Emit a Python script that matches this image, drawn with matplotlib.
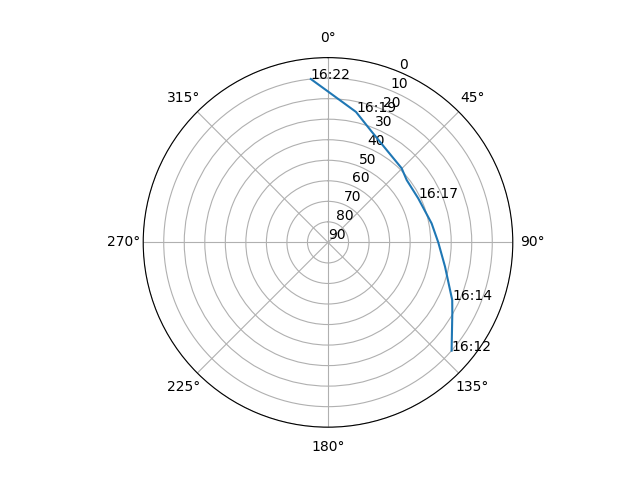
import numpy as np
import matplotlib
matplotlib.use("Agg")
import matplotlib.pyplot as plt

# pass track (azimuth deg, elevation deg)
azimuth = [131.2, 119.7, 114.9, 111.3, 101.7, 90.0, 79.6, 64.0, 51.6, 44.8,
           32.4, 21.5, 12.1, 0.1, -6.0]
elevation = [10.0, 20.3, 23.3, 26.2, 31.8, 36.3, 38.7, 41.1, 41.1, 39.1,
             36.7, 32.0, 25.0, 16.6, 10.0]
# time labels at some of the samples ("" = no label)
time_labels = ["16:12", "", "16:14", "", "", "", "", "16:17", "", "",
               "", "", "16:19", "", "16:22"]


def main():
    fig = plt.figure(figsize=(6.4, 4.8), dpi=100)
    ax = fig.add_subplot(111, projection="polar")
    ax.set_theta_zero_location("N")
    ax.set_theta_direction(-1)

    theta = np.radians(azimuth)
    ax.plot(theta, elevation)
    for t, e, lab in zip(theta, elevation, time_labels):
        if lab:
            ax.text(t, e, lab)

    ax.set_ylim(90, 0)
    ax.set_yticks(range(0, 91, 10))
    ax.grid(True)

    fig.savefig("out.png", dpi=100)


if __name__ == "__main__":
    main()
